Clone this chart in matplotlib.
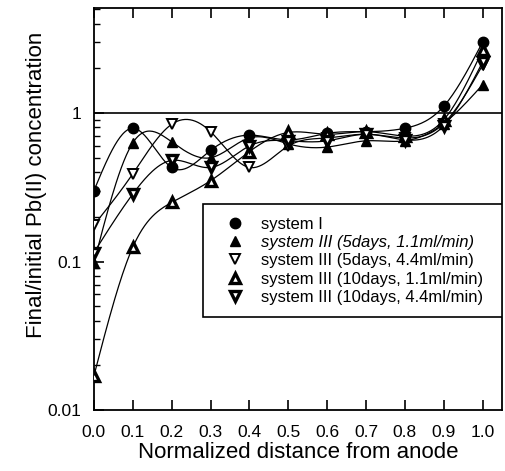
"""Pb(II) concentration profiles along the normalized distance from the anode."""
import matplotlib
matplotlib.use("Agg")
import matplotlib.pyplot as plt
import numpy as np
from matplotlib.patches import Rectangle
from matplotlib.ticker import FixedLocator, LogLocator, NullFormatter

plt.rcParams["font.family"] = ["Liberation Sans", "DejaVu Sans"]

distance = [0.0, 0.1, 0.2, 0.3, 0.4, 0.5, 0.6, 0.7, 0.8, 0.9, 1.0]

system_1 = [0.30, 0.79, 0.43, 0.56, 0.71, 0.66, 0.73, 0.75, 0.79, 1.11, 3.0]
sys3_5d_11 = [0.098, 0.63, 0.64, 0.50, 0.68, 0.62, 0.59, 0.65, 0.65, 0.85, 1.55]
sys3_5d_44 = [0.176, 0.39, 0.84, 0.75, 0.43, 0.60, 0.68, 0.72, 0.68, 0.85, 2.1]
sys3_10d_11 = [0.017, 0.125, 0.25, 0.35, 0.55, 0.74, 0.72, 0.75, 0.70, 0.90, 2.65]
sys3_10d_44 = [0.115, 0.285, 0.48, 0.43, 0.60, 0.65, 0.65, 0.72, 0.66, 0.82, 2.2]

labels = [
    "system I",
    "system III (5days, 1.1ml/min)",
    "system III (5days, 4.4ml/min)",
    "system III (10days, 1.1ml/min)",
    "system III (10days, 4.4ml/min)",
]


def spline(x, y, n=300):
    """Natural cubic spline, drawn in log space, for the smooth joining curves."""
    x = np.asarray(x, float)
    y = np.log10(np.asarray(y, float))
    h = np.diff(x)
    m = len(x)
    a = np.zeros((m, m))
    b = np.zeros(m)
    a[0, 0] = a[-1, -1] = 1.0
    for i in range(1, m - 1):
        a[i, i - 1] = h[i - 1]
        a[i, i] = 2 * (h[i - 1] + h[i])
        a[i, i + 1] = h[i]
        b[i] = 6 * ((y[i + 1] - y[i]) / h[i] - (y[i] - y[i - 1]) / h[i - 1])
    mm = np.linalg.solve(a, b)
    xs = np.linspace(x[0], x[-1], n)
    idx = np.clip(np.searchsorted(x, xs) - 1, 0, m - 2)
    t0 = x[idx + 1] - xs
    t1 = xs - x[idx]
    hi = h[idx]
    ys = (mm[idx] * t0 ** 3 / (6 * hi) + mm[idx + 1] * t1 ** 3 / (6 * hi)
          + (y[idx] / hi - mm[idx] * hi / 6) * t0
          + (y[idx + 1] / hi - mm[idx + 1] * hi / 6) * t1)
    return xs, 10 ** ys


series = [system_1, sys3_5d_11, sys3_5d_44, sys3_10d_11, sys3_10d_44]
styles = [
    dict(marker="o", ms=7.5, mfc="black", mec="black", mew=1.0),
    dict(marker="^", ms=7.5, mfc="black", mec="black", mew=1.0),
    dict(marker="v", ms=7.5, mfc="white", mec="black", mew=1.4),
    dict(marker="^", ms=6.5, mfc="white", mec="black", mew=2.4),
    dict(marker="v", ms=6.5, mfc="white", mec="black", mew=2.4),
]

fig = plt.figure(figsize=(5.05, 4.71), dpi=100)
ax = fig.add_axes([0.186, 0.1295, 0.808, 0.8535])

ax.axhline(1.0, color="black", lw=1.2, zorder=1)

handles = []
for ys, st, lab in zip(series, styles, labels):
    xs, yc = spline(distance, ys)
    ax.plot(xs, yc, color="black", lw=0.9, zorder=2)
    h, = ax.plot(distance, ys, ls="none", zorder=3, label=lab, **st)
    handles.append(h)

ax.set_yscale("log")
ax.set_xlim(0, 1.05)
ax.set_ylim(0.01, 5.1)
ax.xaxis.set_major_locator(FixedLocator(distance))
ax.set_xticklabels([f"{v:.1f}" for v in distance])
ax.set_yticks([0.01, 0.1, 1])
ax.set_yticklabels(["0.01", "0.1", "1"])
ax.yaxis.set_minor_locator(LogLocator(base=10, subs=np.arange(2, 10)))
ax.yaxis.set_minor_formatter(NullFormatter())
ax.tick_params(axis="both", which="major", direction="in", length=7, width=1.2,
               labelsize=12.5, top=True, right=False)
ax.tick_params(axis="x", which="major", pad=11)
ax.tick_params(axis="y", which="major", pad=9)
ax.tick_params(axis="y", which="minor", direction="in", length=4, width=1.0, right=False)
for sp in ax.spines.values():
    sp.set_linewidth(1.3)

ax.set_xlabel("Normalized distance from anode", fontsize=16, labelpad=1)
ax.set_ylabel("Final/initial Pb(II) concentration", fontsize=16, labelpad=4)
ax.yaxis.set_label_coords(-0.115, 0.56)

# legend box spans to the right axis edge, as in the original
box = Rectangle((0.267, 0.231), 0.733, 0.281, transform=ax.transAxes,
                facecolor="white", edgecolor="black", lw=1.2, zorder=4)
ax.add_patch(box)
leg = ax.legend(handles=handles, loc="upper left", bbox_to_anchor=(0.30, 0.502),
                fontsize=12, frameon=False, handlelength=1.2, handletextpad=1.0,
                borderpad=0.5, labelspacing=0.2, borderaxespad=0)
leg.set_zorder(5)
leg.get_texts()[1].set_style("italic")

fig.savefig("out.png", dpi=100)
